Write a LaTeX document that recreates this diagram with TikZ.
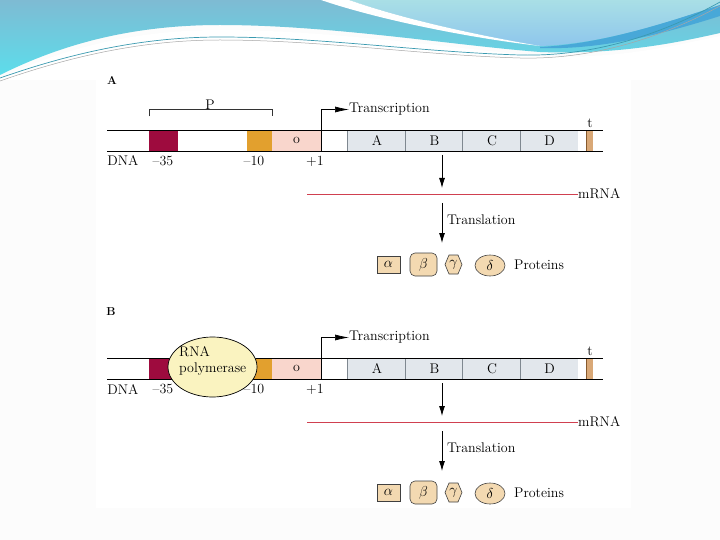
\documentclass[tikz,border=0pt]{standalone}
\usetikzlibrary{arrows.meta,shapes.geometric,shapes.misc}
\definecolor{crim}{HTML}{9E0B3E}
\definecolor{orng}{HTML}{E2A02E}
\definecolor{pinkbox}{HTML}{F9D6CC}
\definecolor{genefill}{HTML}{E2E7EC}
\definecolor{divc}{HTML}{7F8890}
\definecolor{tanbar}{HTML}{D9A877}
\definecolor{mrnared}{HTML}{D04050}
\definecolor{protfill}{HTML}{F3D9B1}
\definecolor{polyfill}{HTML}{FAF3C0}
\definecolor{rOneTop}{HTML}{7EBBD3}
\definecolor{rOneBot}{HTML}{5CDDEB}
\definecolor{rTwoTop}{HTML}{A9DFE6}
\definecolor{rTwoBot}{HTML}{8EC6EC}
\definecolor{darkband}{HTML}{48A8D8}
\definecolor{thinline}{HTML}{3A9AB0}
\begin{document}
\begin{tikzpicture}[x=1pt,y=-1pt,
  font=\fontsize{14}{16}\selectfont,
  box/.style={rectangle,inner sep=0pt,draw=none},
  lbl/.style={inner sep=0pt},
  dnaline/.style={line width=0.9pt,black},
  divider/.style={line width=0.9pt,divc},
  arr/.style={line width=0.9pt,-{Latex[length=10pt,width=6pt]}},
  tarr/.style={line width=0.7pt,-{Latex[length=14pt,width=6pt]}},
  prot/.style={fill=protfill,draw=black!75,line width=0.6pt,inner sep=0pt},
  mrnaline/.style={line width=0.9pt,mrnared}]
\useasboundingbox (0,0) rectangle (720,540);
\fill[white!99!black] (0,0) rectangle (720,540);
% ---- top decoration ----
\shade[top color=rOneTop,bottom color=rOneBot]
  (0,0) -- (720,0) -- (720,33)
  .. controls (680,42) and (620,55) .. (540,52)
  .. controls (450,45) and (330,25) .. (220,25)
  .. controls (130,25) and (60,45) .. (0,75) -- cycle;
\shade[top color=rTwoTop,bottom color=rTwoBot]
  (349,0) -- (720,0) -- (720,5)
  .. controls (660,25) and (600,44) .. (540,46)
  .. controls (470,34) and (400,18) .. (349,0) -- cycle;
\fill[white] (321,0) .. controls (380,20) and (470,38) .. (540,46)
  .. controls (470,34) and (400,18) .. (349,0) -- cycle;
\fill[darkband] (540,47) .. controls (600,44) and (660,25) .. (720,5)
  -- (720,16) .. controls (660,35) and (600,50) .. (540,48) -- cycle;
\fill[white] (0,78) .. controls (60,50) and (130,30) .. (220,30)
  .. controls (330,30) and (450,48) .. (540,56)
  .. controls (620,60) and (680,44) .. (720,36) -- (720,80) -- (0,80) -- cycle;
\draw[thinline,line width=0.7pt] (0,78) .. controls (80,50) and (150,37) .. (220,37)
  .. controls (320,37) and (420,52) .. (520,55) .. controls (600,57) and (670,30) .. (720,2);
\draw[gray!70,line width=0.5pt] (0,81) .. controls (80,53) and (150,40) .. (220,40)
  .. controls (320,40) and (420,55) .. (520,58) .. controls (600,60) and (670,33) .. (720,6);
% ---- figure panel ----
\fill[white] (96,72) rectangle (631,508);
\foreach \p/\dy in {a/0,b/228}{
\begin{scope}[shift={(0,\dy)}]
  % boxes
  \node[box,fill=crim,minimum width=29pt,minimum height=20.5pt] (\p m35) at (163.5,140.75) {};
  \node[box,fill=orng,minimum width=25pt,minimum height=20.5pt] (\p m10) at (259.5,140.75) {};
  \node[box,fill=pinkbox,minimum width=49pt,minimum height=20.5pt] (\p op) at (296.5,140.75) {o};
  \node[box,fill=genefill,minimum width=58pt,minimum height=20.5pt] (\p gA) at (377,140.75) {A};
  \node[box,fill=genefill,minimum width=57pt,minimum height=20.5pt] (\p gB) at (434.5,140.75) {B};
  \node[box,fill=genefill,minimum width=58pt,minimum height=20.5pt] (\p gC) at (492,140.75) {C};
  \node[box,fill=genefill,minimum width=57pt,minimum height=20.5pt] (\p gD) at (549.5,140.75) {D};
  \node[box,fill=tanbar,minimum width=6pt,minimum height=20.5pt] (\p tb) at (590,140.75) {};
  \draw[divider] (\p gA.north west) -- (\p gA.south west);
  \draw[divider] (\p gB.north west) -- (\p gB.south west);
  \draw[divider] (\p gC.north west) -- (\p gC.south west);
  \draw[divider] (\p gD.north west) -- (\p gD.south west);
  \draw[line width=0.8pt,brown!70!black] (\p tb.north west) -- (\p tb.south west);
  % DNA lines
  \coordinate (\p dl1) at (107,130.5);
  \coordinate (\p dr1) at (603,130.5);
  \coordinate (\p dl2) at (107,151);
  \coordinate (\p dr2) at (603,151);
  \draw[dnaline] (\p dl1) -- (\p dr1);
  \draw[dnaline] (\p dl2) -- (\p dr2);
  \node[lbl] (\p t) at (590,123.5) {t};
  % labels under DNA
  \node[lbl] (\p dna) at (123,161) {DNA};
  \node[lbl] (\p l35) at (163,161) {--35};
  \node[lbl] (\p l10) at (254,161) {--10};
  \node[lbl] (\p l1) at (315,161) {+1};
  % transcription arrow
  \coordinate (\p tss) at (321,151);
  \node[lbl,anchor=west] (\p tr) at (349,109.5) {Transcription};
  \draw[tarr] (\p tss) |- (\p tr.west);
  % mRNA
  \coordinate (\p ms) at (307,194);
  \node[lbl,anchor=west] (\p mrna) at (578,194) {mRNA};
  \draw[mrnaline] (\p ms) -- (\p mrna.west);
  \coordinate (\p d1s) at (442,155);
  \coordinate (\p d1e) at (442,188);
  \draw[arr] (\p d1s) -- (\p d1e);
  % translation
  \coordinate (\p d2s) at (442,203);
  \coordinate (\p d2e) at (442,243);
  \draw[arr] (\p d2s) -- (\p d2e);
  \node[lbl,anchor=west] (\p tl) at (447,219.5) {Translation};
  % proteins
  \node[prot,rectangle,minimum width=23pt,minimum height=17pt] (\p pa) at (388.5,264.5) {$\alpha$};
  \node[prot,rectangle,rounded corners=5pt,minimum width=27pt,minimum height=23pt] (\p pb) at (423.5,264.5) {$\beta$};
  \draw[prot] (445,264.5) -- (449,255) -- (458,255) -- (462,264.5) -- (458,274) -- (449,274) -- cycle;
  \node[lbl] (\p pg) at (453.5,264.5) {$\gamma$};
  \node[prot,ellipse,minimum width=30pt,minimum height=21pt] (\p pd) at (490,265.5) {$\delta$};
  \node[lbl,anchor=west] (\p prl) at (514,265) {Proteins};
\end{scope}}
\node[lbl,font=\fontsize{11.5}{13}\selectfont\bfseries] (pA) at (112,80) {A};
\node[lbl,font=\fontsize{11.5}{13}\selectfont\bfseries] (pB) at (111,312) {B};
% promoter bracket
\node[lbl] (P) at (210,105) {P};
\draw[line width=0.6pt,black!80] (149,116.5) -- (149,109.5) -- (272,109.5) -- (272,116.5);
% RNA polymerase
\node[ellipse,fill=polyfill,draw=black,line width=0.7pt,minimum width=89pt,minimum height=60pt,inner sep=0pt] (pol) at (212.5,367) {};
\node[lbl,align=left,anchor=west] (poltext) at (179,361) {RNA\\polymerase};
\end{tikzpicture}
\end{document}
